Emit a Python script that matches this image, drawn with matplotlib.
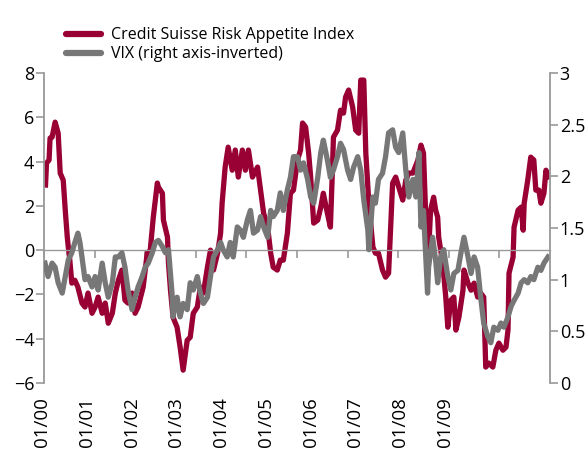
import numpy as np
import matplotlib
matplotlib.use("Agg")
import matplotlib.pyplot as plt
from matplotlib.lines import Line2D

plt.rcParams['font.family'] = ['Open Sans', 'DejaVu Sans']

# years since 01/2000
csrai_t = [0.03, 0.05, 0.10, 0.12, 0.16, 0.22, 0.28, 0.32, 0.38, 0.42, 0.46, 0.48, 0.51, 0.55,
           0.61, 0.67, 0.75, 0.81, 0.87, 0.95, 1.01, 1.07, 1.15, 1.21, 1.27, 1.35, 1.41, 1.47,
           1.54, 1.60, 1.66, 1.74, 1.80, 1.86, 1.96, 2.04, 2.10, 2.16, 2.24, 2.26, 2.34, 2.36,
           2.44, 2.46, 2.50, 2.55, 2.63, 2.69, 2.75, 2.83, 2.89, 2.95, 3.03, 3.09, 3.15, 3.23,
           3.29, 3.35, 3.43, 3.49, 3.52, 3.58, 3.64, 3.72, 3.78, 3.84, 3.92, 3.98, 4.04, 4.12,
           4.22, 4.28, 4.34, 4.42, 4.48, 4.53, 4.61, 4.67, 4.73, 4.81, 4.87, 4.93, 5.01, 5.07,
           5.11, 5.17, 5.23, 5.27, 5.33, 5.41, 5.47, 5.52, 5.60, 5.66, 5.70, 5.72, 5.80, 5.86,
           5.92, 5.96, 6.02, 6.10, 6.16, 6.22, 6.26, 6.32, 6.36, 6.42, 6.50, 6.55, 6.61, 6.69,
           6.75, 6.81, 6.85, 6.89, 6.95, 7.01, 7.09, 7.15, 7.21, 7.29, 7.39, 7.45, 7.50, 7.54,
           7.60, 7.64, 7.70, 7.74, 7.78, 7.80, 7.88, 7.94, 7.98, 8.04, 8.10, 8.14, 8.20, 8.28,
           8.30, 8.38, 8.44, 8.50, 8.57, 8.63, 8.69, 8.73, 8.79, 8.87, 8.93, 8.99, 9.07, 9.13,
           9.17, 9.19, 9.27, 9.29, 9.37, 9.43, 9.47, 9.49, 9.56, 9.62, 9.68, 9.72, 9.78, 9.82,
           9.88, 9.92, 9.96]
csrai = [2.94, 3.93, 4.07, 5.06, 5.10, 5.78, 5.28, 3.48, 3.16, 1.81, 0.59, 0.14, -0.45, -1.49,
         -1.36, -1.67, -2.39, -2.57, -1.94, -2.85, -2.57, -2.12, -2.85, -2.39, -3.30, -2.85, -1.94, -1.36,
         -0.90, -2.26, -2.39, -1.94, -2.85, -2.57, -1.67, -0.14, 0.00, 1.49, 3.03, 2.85, 2.57, 1.36,
         0.59, -0.59, -1.81, -3.03, -3.48, -4.38, -5.42, -4.07, -3.93, -2.85, -2.57, -1.67, -1.94, -0.77,
         0.00, -0.90, -0.14, 0.77, 2.12, 3.75, 4.65, 3.61, 4.52, 3.30, 4.52, 3.61, 4.52, 3.30,
         3.75, 2.71, 1.67, 1.04, -0.14, -0.77, -0.90, -0.45, -0.45, 0.77, 2.57, 2.71, 4.07, 4.52,
         5.74, 5.56, 4.38, 3.30, 1.22, 1.36, 1.94, 2.57, 1.67, 1.04, 3.61, 5.10, 5.42, 6.32,
         6.19, 6.91, 7.23, 6.46, 5.42, 5.28, 7.68, 7.68, 4.38, 2.12, 0.14, -0.14, -0.14, -0.90,
         -1.22, -1.04, 1.04, 3.03, 3.30, 2.85, 2.26, 3.16, 3.48, 3.48, 4.07, 4.74, 4.38, 1.81,
         -0.14, 1.81, 2.39, 1.81, 1.49, 0.59, -0.59, -2.12, -3.48, -2.26, -2.12, -3.61, -3.03, -1.81,
         -0.90, -1.49, -1.81, -1.49, -2.12, -1.94, -2.12, -5.28, -5.10, -5.28, -4.52, -4.20, -4.52, -4.38,
         -3.61, -1.04, -0.32, 1.04, 1.81, 1.94, 0.90, 2.12, 3.16, 4.20, 4.07, 2.71, 2.71, 2.12,
         2.57, 3.61, 3.30]

vix_t = [0.02, 0.08, 0.16, 0.22, 0.28, 0.36, 0.42, 0.48, 0.55, 0.61, 0.67, 0.71, 0.75, 0.81,
         0.87, 0.95, 1.01, 1.07, 1.15, 1.21, 1.27, 1.35, 1.41, 1.47, 1.54, 1.60, 1.66, 1.74,
         1.80, 1.86, 1.94, 2.00, 2.06, 2.14, 2.20, 2.26, 2.34, 2.40, 2.46, 2.53, 2.55, 2.63,
         2.69, 2.75, 2.83, 2.89, 2.95, 3.03, 3.09, 3.15, 3.23, 3.29, 3.35, 3.43, 3.49, 3.54,
         3.62, 3.68, 3.74, 3.82, 3.88, 3.94, 4.02, 4.08, 4.14, 4.22, 4.28, 4.34, 4.42, 4.48,
         4.53, 4.61, 4.67, 4.73, 4.81, 4.87, 4.93, 5.01, 5.07, 5.13, 5.21, 5.27, 5.33, 5.41,
         5.47, 5.52, 5.60, 5.66, 5.72, 5.80, 5.86, 5.92, 6.00, 6.06, 6.12, 6.20, 6.26, 6.32,
         6.40, 6.42, 6.50, 6.55, 6.61, 6.69, 6.75, 6.81, 6.89, 6.95, 7.01, 7.09, 7.15, 7.21,
         7.29, 7.35, 7.41, 7.45, 7.50, 7.58, 7.60, 7.68, 7.74, 7.78, 7.84, 7.90, 7.98, 8.04,
         8.10, 8.18, 8.24, 8.30, 8.38, 8.44, 8.50, 8.57, 8.63, 8.69, 8.77, 8.83, 8.89, 8.97,
         9.03, 9.09, 9.17, 9.23, 9.29, 9.37, 9.43, 9.49, 9.56, 9.62, 9.68, 9.76, 9.82, 9.88,
         9.96]
vix = [1.16, 1.03, 1.16, 1.12, 0.97, 0.87, 1.03, 1.19, 1.26, 1.36, 1.45, 1.36, 1.22, 1.00,
       1.03, 0.93, 1.03, 0.90, 1.16, 0.97, 0.83, 0.97, 1.22, 1.22, 1.26, 1.12, 0.90, 0.71,
       0.83, 0.93, 1.03, 1.12, 1.16, 1.26, 1.36, 1.38, 1.32, 1.26, 1.29, 0.87, 0.64, 0.83,
       0.64, 0.77, 0.71, 0.97, 0.90, 1.03, 0.87, 0.77, 0.83, 1.03, 1.22, 1.29, 1.36, 1.29,
       1.22, 1.36, 1.22, 1.51, 1.48, 1.41, 1.58, 1.67, 1.45, 1.48, 1.61, 1.51, 1.41, 1.67,
       1.61, 1.67, 1.84, 1.67, 1.87, 1.99, 2.19, 2.19, 2.06, 2.13, 1.97, 1.80, 1.74, 1.99,
       2.23, 2.35, 2.16, 1.99, 2.06, 2.19, 2.32, 2.26, 2.06, 1.97, 2.09, 2.19, 2.06, 1.77,
       1.48, 1.29, 1.80, 1.74, 1.97, 2.03, 2.19, 2.42, 2.45, 2.28, 2.23, 2.42, 2.06, 1.80,
       1.97, 1.80, 2.23, 1.51, 1.67, 0.87, 1.12, 1.41, 1.19, 0.97, 1.22, 1.29, 1.03, 0.90,
       1.06, 1.09, 1.26, 1.41, 1.22, 1.06, 1.22, 1.12, 0.83, 0.58, 0.45, 0.39, 0.54, 0.51,
       0.58, 0.54, 0.64, 0.74, 0.80, 0.87, 0.97, 1.00, 0.97, 1.03, 1.00, 1.12, 1.09, 1.16,
       1.22]

years = ['01/00', '01/01', '01/02', '01/03', '01/04', '01/05', '01/06', '01/07', '01/08', '01/09']

red = '#990033'
grey = '#777777'
axis_grey = '#999999'

fig = plt.figure(figsize=(5.88, 4.57), dpi=100)
ax = fig.add_axes([44 / 588, 1 - 383 / 457, 506 / 588, 310 / 457])
ax2 = ax.twinx()

ax.plot(csrai_t, csrai, color=red, lw=3.8, solid_joinstyle='round')
ax2.plot(vix_t, vix, color=grey, lw=3.8, solid_joinstyle='round')

ax.set_xlim(0, 10)
ax.set_ylim(-6, 8)
ax.set_yticks(range(-6, 9, 2))
ax2.set_ylim(0, 3)
ax2.set_yticks([0, 0.5, 1, 1.5, 2, 2.5, 3])
ax2.set_yticklabels(['0', '0.5', '1', '1.5', '2', '2.5', '3'])

for a in (ax, ax2):
    a.spines['top'].set_visible(False)
    a.patch.set_visible(False)
ax.spines['right'].set_visible(False)
ax2.spines['left'].set_visible(False)
ax2.spines['bottom'].set_visible(False)
ax.spines['left'].set_color(axis_grey)
ax2.spines['right'].set_color(axis_grey)
ax.spines['left'].set_linewidth(1.3)
ax2.spines['right'].set_linewidth(1.3)

# zero line with year ticks
ax.spines['bottom'].set_position(('data', 0))
ax.spines['bottom'].set_color(axis_grey)
ax.spines['bottom'].set_linewidth(1.0)
ax.set_xticks(range(0, 10))
ax.tick_params(axis='x', direction='out', length=6, width=1.2, color=axis_grey, labelbottom=False)
ax.tick_params(axis='y', direction='out', length=6, width=1.2, color=axis_grey, labelsize=13, pad=1)
ax2.tick_params(axis='y', direction='out', length=6, width=1.2, color=axis_grey, labelsize=13, pad=1)

# date labels along the bottom
label_pos = np.arange(len(years)) * 0.885 - 0.04
for p, s in zip(label_pos, years):
    ax.text(p, -0.045, s, transform=ax.get_xaxis_transform(), rotation=90,
            ha='center', va='top', fontsize=13.5)

handles = [Line2D([], [], color=red, lw=4.5, solid_capstyle='round'),
           Line2D([], [], color=grey, lw=4.5, solid_capstyle='round')]
fig.legend(handles, ['Credit Suisse Risk Appetite Index', 'VIX (right axis-inverted)'],
           loc='upper left', bbox_to_anchor=(55 / 588, 1 - 16 / 457), frameon=False,
           fontsize=11.5, handlelength=2.2, handletextpad=0.6, labelspacing=0.2,
           borderpad=0.2)

fig.savefig('out.png', dpi=100)
